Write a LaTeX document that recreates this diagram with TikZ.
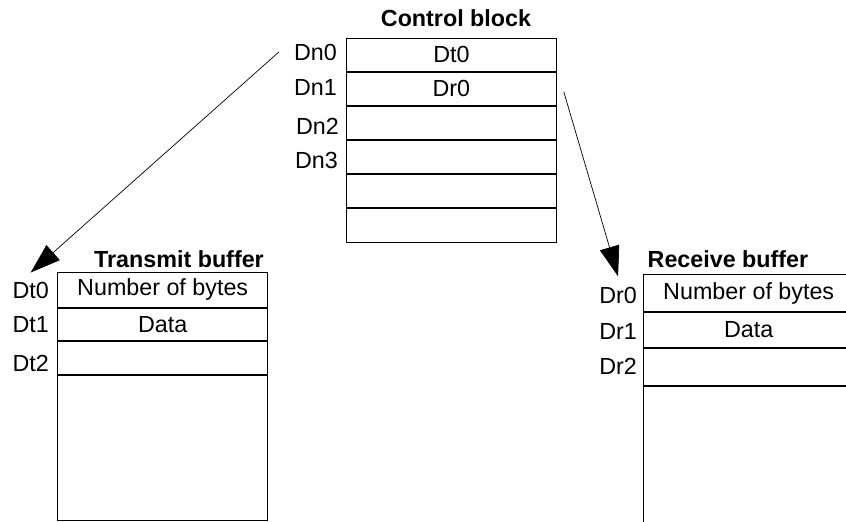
\documentclass[tikz,border=0pt]{standalone}
\usepackage{fontspec}
\setmainfont{Liberation Sans}
\usetikzlibrary{arrows.meta,positioning}

\begin{document}
\begin{tikzpicture}[x=1pt,y=-1pt,
    cell/.style={draw,line width=0.8pt,minimum width=210pt,inner sep=0pt,anchor=north west,font=\fontsize{23.3}{26}\selectfont},
    tag/.style={anchor=east,inner sep=0pt,font=\fontsize{23.3}{26}\selectfont},
    title/.style={inner sep=0pt,font=\bfseries\fontsize{23.3}{26}\selectfont},
    ptr/.style={line width=0.7pt,-{Triangle[length=30pt,width=20pt]}}]
            \useasboundingbox (0,0) rectangle (846,522);
            \clip (0,0) rectangle (846,522);

            % control block
            \node[title] (cbtitle) at (456,18) {Control block};
            \node[cell,minimum height=33.3pt] (c0) at (346,37.7) {Dt0};
            \node[cell,minimum height=33.3pt,below=0pt of c0] (c1) {Dr0};
            \node[cell,minimum height=33.3pt,below=0pt of c1] (c2) {};
            \node[cell,minimum height=33.3pt,below=0pt of c2] (c3) {};
            \node[cell,minimum height=33.3pt,below=0pt of c3] (c4) {};
            \node[cell,minimum height=33.3pt,below=0pt of c4] (c5) {};
            \node[tag] (dn0) at (337,52) {Dn0};
            \node[tag] (dn1) at (337,87) {Dn1};
            \node[tag] (dn2) at (339,126) {Dn2};
            \node[tag] (dn3) at (338,160) {Dn3};

            % transmit buffer
            \node[title] (tbtitle) at (179,259) {Transmit buffer};
            \node[cell,minimum height=35pt] (t0) at (57.3,271.7) {Number of bytes};
            \node[cell,minimum height=32.6pt,below=0pt of t0] (t1) {Data};
            \node[cell,minimum height=33.4pt,below=0pt of t1] (t2) {};
            \node[cell,minimum height=144.6pt,below=0pt of t2] (t3) {};
            \node[tag] (dt0) at (49,290) {Dt0};
            \node[tag] (dt1) at (49,325) {Dt1};
            \node[tag] (dt2) at (49,363) {Dt2};

            % receive buffer
            \node[title] (rbtitle) at (728,259) {Receive buffer};
            \node[cell,minimum height=36.7pt] (r0) at (643.3,274.3) {Number of bytes};
            \node[cell,minimum height=35pt,below=0pt of r0] (r1) {Data};
            \node[cell,minimum height=37.3pt,below=0pt of r1] (r2) {};
            \node[cell,minimum height=150pt,below=0pt of r2] (r3) {};
            \node[tag] (dr0) at (637,295.7) {Dr0};
            \node[tag] (dr1) at (637,331.7) {Dr1};
            \node[tag] (dr2) at (637,366.7) {Dr2};

            % pointers
            \coordinate (txfrom) at ([xshift=-15pt]dn0.west);
            \coordinate (rxfrom) at ([xshift=7pt,yshift=-3pt]c1.east);
            \draw[ptr] (txfrom) -- ([yshift=9pt]dt0.north);
            \draw[ptr] (rxfrom) -- ([yshift=11pt]dr0.north);
        \end{tikzpicture}
\end{document}
